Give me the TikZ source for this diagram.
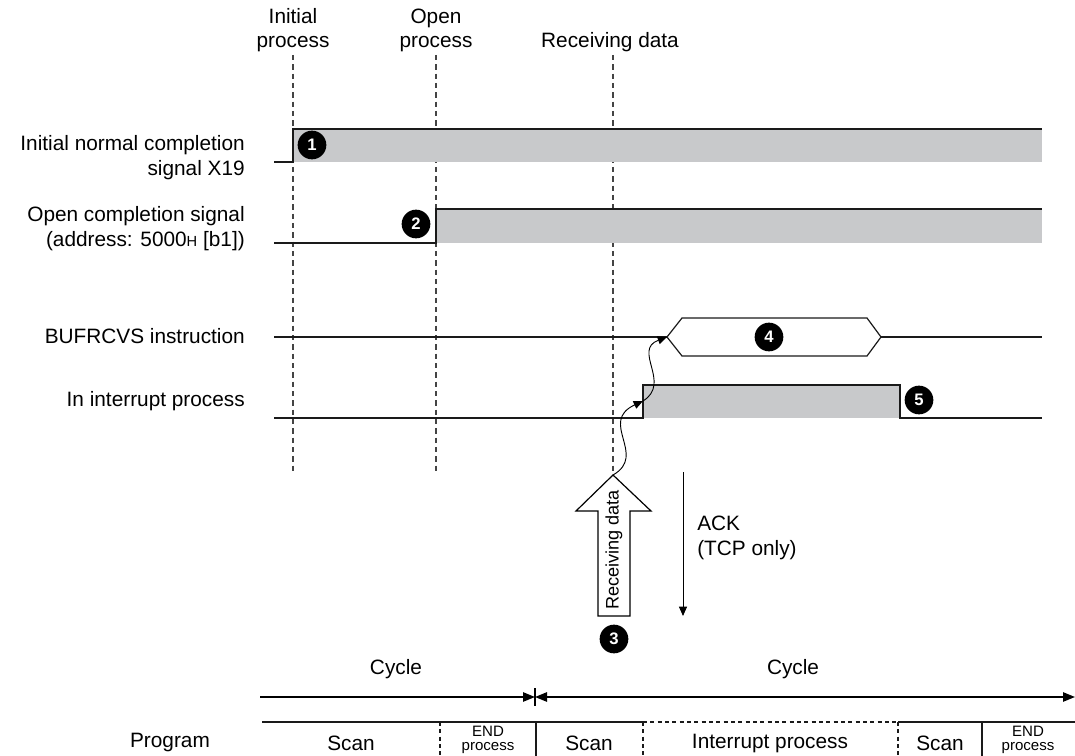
\documentclass[tikz,border=0pt]{standalone}
\usepackage{fontspec}
\setmainfont{Liberation Sans}
\usetikzlibrary{arrows.meta, positioning, calc}
\definecolor{busy-fill}{HTML}{C8C9CB}
\definecolor{sig-line}{HTML}{1A1A1A}
\definecolor{guide-line}{HTML}{444444}
\tikzset{
  signal/.style={draw=sig-line, line width=1.5pt, line join=miter},
  busy/.style={fill=busy-fill},
  hexbox/.style={draw=sig-line, line width=0.9pt, fill=white},
  guide/.style={draw=guide-line, line width=0.8pt, dash pattern=on 4pt off 3pt},
  stepnum/.style={
    circle, fill=black, text=white, inner sep=0pt, minimum size=21.5pt,
    font=\bfseries\fontsize{12.5}{12.5}\selectfont
  },
  sig-lbl/.style={anchor=east, align=right, inner sep=0pt,
    font=\fontsize{15.6}{18.8}\selectfont},
  top-lbl/.style={align=center, inner sep=0pt, font=\fontsize{15.6}{18}\selectfont},
  cell-lbl/.style={align=center, inner sep=0pt, font=\fontsize{15.6}{18}\selectfont},
  end-lbl/.style={align=center, inner sep=0pt, font=\fontsize{11.3}{10}\selectfont},
  flow/.style={-{Triangle[length=7pt, width=6pt]}, line width=0.7pt},
  cyc/.style={line width=1.2pt},
  grid-solid/.style={line width=0.8pt, draw=sig-line},
  grid-dash/.style={line width=0.8pt, draw=sig-line, dash pattern=on 3pt off 2.5pt}
}

\begin{document}
\begin{tikzpicture}[x=0.75pt, y=-0.75pt]
  \useasboundingbox (0,0) rectangle (1075,756);

  % ---- Phase labels and guide lines ----------------------------------------
  \node[top-lbl] (ph1) at (293,30) {Initial\\process};
  \node[top-lbl] (ph2) at (436,30) {Open\\process};
  \node[top-lbl] (ph3) at (610,42) {Receiving data};
  \coordinate (g1) at (293,55);  \coordinate (g1e) at (293,472);
  \coordinate (g2) at (436,55);  \coordinate (g2e) at (436,472);
  \coordinate (g3) at (613,55);  \coordinate (g3e) at (613,475);
  \draw[guide] (g1) -- (g1e);
  \draw[guide] (g2) -- (g2e);
  \draw[guide] (g3) -- (g3e);

  % ---- Signal names --------------------------------------------------------
  \node[sig-lbl] (s1) at (245,158) {Initial normal completion\\signal X19};
  \node[sig-lbl] (s2) at (245,229) {Open completion signal\\(address: 5000{\fontsize{11}{11}\selectfont H} [b1])};
  \node[sig-lbl] (s3) at (245,336) {BUFRCVS instruction};
  \node[sig-lbl] (s4) at (245,401) {In interrupt process};

  % ---- Initial normal completion ------------------------------------------
  \fill[busy] (293,129) rectangle (1042,162);
  \draw[signal] (274,162) -- (293,162) -- (293,129) -- (1042,129);

  % ---- Open completion -----------------------------------------------------
  \fill[busy] (436,209) rectangle (1042,243);
  \draw[signal] (274,243) -- (436,243) -- (436,209) -- (1042,209);

  % ---- BUFRCVS -------------------------------------------------------------
  \coordinate (hexL) at (667,337);
  \draw[signal] (274,337) -- (hexL);
  \draw[hexbox] (hexL) -- (682,318) -- (867,318) -- (881,337) -- (867,356) -- (682,356) -- cycle;
  \draw[signal] (881,337) -- (1042,337);

  % ---- Interrupt -----------------------------------------------------------
  \coordinate (intrise) at (643,401);
  \fill[busy] (643,385) rectangle (900,418);
  \draw[signal] (274,418) -- (643,418) -- (643,385) -- (900,385) -- (900,418) -- (1042,418);

  % ---- Receiving data arrow ------------------------------------------------
  \coordinate (rcvtip) at (613,475);
  \draw[line width=0.9pt, fill=white] (rcvtip) -- (651,511) -- (630,511) -- (630,616)
    -- (598,616) -- (598,511) -- (576,511) -- cycle;
  \node[rotate=90, inner sep=0pt, font=\fontsize{13.6}{14}\selectfont] (rcvtxt) at (614,550) {Receiving data};

  % ---- wavy triggers -------------------------------------------------------
  \draw[flow] (rcvtip) .. controls (648,455) and (598,422) .. (intrise);
  \draw[flow] (intrise) .. controls (672,383) and (632,350) .. (hexL);

  % ---- ACK -----------------------------------------------------------------
  \coordinate (ackA) at (683,472);
  \coordinate (ackB) at (683,616);
  \draw[flow] (ackA) -- (ackB);
  \node[anchor=west, align=left, inner sep=0pt, font=\fontsize{15.6}{18.8}\selectfont] (ack) at (697,538) {ACK\\(TCP only)};

  % ---- Step markers --------------------------------------------------------
  \node[stepnum] (n1) at (312,145) {1};
  \node[stepnum] (n2) at (416,224) {2};
  \node[stepnum] (n3) at (614,639) {3};
  \node[stepnum] (n4) at (769,337) {4};
  \node[stepnum] (n5) at (919,400) {5};

  % ---- Cycle ---------------------------------------------------------------
  \coordinate (cycL) at (260,697);
  \coordinate (cycM) at (535,697);
  \coordinate (cycR) at (1075,697);
  \draw[cyc, -{Triangle[length=9pt, width=7pt]}] (cycL) -- (cycM);
  \draw[cyc, {Triangle[length=9pt, width=7pt]}-{Triangle[length=9pt, width=7pt]}] (cycM) -- (cycR);
  \draw[line width=0.9pt] ($(cycM)+(0,-9)$) -- ($(cycM)+(0,9)$);
  \node[cell-lbl] (cy1) at (396,669) {Cycle};
  \node[cell-lbl] (cy2) at (793,669) {Cycle};

  % ---- Program row ---------------------------------------------------------
  \draw[grid-solid] (262,722) -- (643,722);
  \draw[grid-dash] (643,722) -- (898,722);
  \draw[grid-solid] (898,722) -- (1075,722);
  \draw[grid-dash] (440,722) -- (440,756);
  \draw[grid-solid] (536,722) -- (536,756);
  \draw[grid-dash] (643,722) -- (643,756);
  \draw[grid-dash] (898,722) -- (898,756);
  \draw[grid-solid] (982,722) -- (982,756);

  \node[cell-lbl] (prog) at (170,742) {Program};
  \node[cell-lbl] (c1) at (351,743) {Scan};
  \node[end-lbl] (c2) at (488,740) {END\\process};
  \node[cell-lbl] (c3) at (589,743) {Scan};
  \node[cell-lbl] (c4) at (770,743) {Interrupt process};
  \node[cell-lbl] (c5) at (940,743) {Scan};
  \node[end-lbl] (c6) at (1028,740) {END\\process};

\end{tikzpicture}
\end{document}
